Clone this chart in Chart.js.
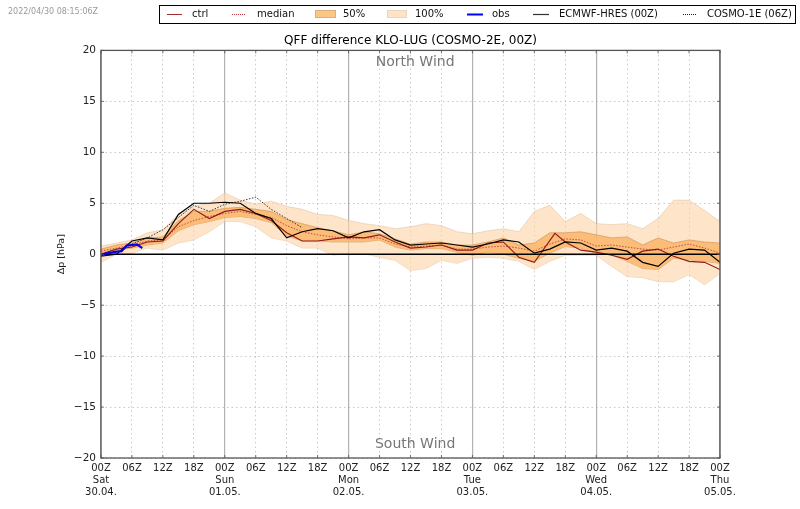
<!DOCTYPE html>
<html><head><meta charset="utf-8">
<style>html,body{margin:0;padding:0;background:#fff}canvas{display:block}</style>
<script src="https://cdn.jsdelivr.net/npm/chart.js@4"></script></head>
<body><canvas id="c" width="800" height="509"></canvas>
<script>
const hours=[0,3,6,9,12,15,18,21,24,27,30,33,36,39,42,45,48,51,54,57,60,63,66,69,72,75,78,81,84,87,90,93,96,99,102,105,108,111,114,117,120];
const upper100=[0.8,1.1,1.4,2.1,2.4,3.9,4.7,5.0,6.0,5.3,4.9,5.2,4.7,4.4,3.9,3.8,3.3,3.0,2.8,2.5,2.7,3.0,2.8,2.2,2.0,2.3,2.5,2.2,4.2,4.8,3.2,4.0,3.0,2.9,3.0,2.5,3.5,5.3,5.3,4.3,3.2];
const lower100=[-0.8,0,0.1,0.6,0.4,1.1,1.4,2.2,3.2,3.2,2.7,1.6,1.3,0.6,0.6,-0.1,0.1,0.05,-0.3,-0.6,-1.6,-1.4,-0.6,-0.9,-0.4,-0.3,-0.4,-0.7,-1.5,-0.7,-0.1,-0.1,-0.1,-1.2,-2.2,-2.3,-2.7,-2.7,-2.0,-3.0,-1.9];
const upper50=[0.5,0.9,1.1,1.6,1.7,3.3,4.2,4.2,4.5,4.6,4.4,4.2,3.4,3.0,2.6,2.3,1.9,2.2,2.0,1.5,1.0,1.2,1.2,0.9,0.9,1.2,1.6,0.9,1.1,2.1,2.1,2.2,1.9,1.6,1.7,0.9,1.6,1.1,1.4,1.2,1.1];
const lower50=[0.1,0.4,0.6,0.9,1.1,2.3,2.9,3.2,3.6,3.7,3.5,3.1,1.8,1.3,1.3,1.2,1.2,1.2,1.4,0.7,0.4,0.55,0.55,0.2,-0.1,0.2,0,-0.4,-0.7,0.1,0.75,0.6,0.1,-0.05,-0.7,-1.4,-1.5,-0.4,-0.55,-0.7,-0.9];
const median=[0.3,0.6,0.9,1.3,1.4,2.7,3.3,3.7,4.0,4.2,3.9,3.6,2.8,2.2,1.9,1.7,1.5,1.6,1.6,1.0,0.7,0.8,0.9,0.5,0.5,0.7,0.8,0.6,0.3,1.0,1.5,1.4,0.8,0.9,0.7,0.5,0.4,0.7,1.0,0.6,0.1];
const ctrlHours=[0,3,6,9,12,15,18,21,24,27,30,33,36,39,42,45,48,51,54,57,60,63,66,69,72,75,78,81,84,88,90,93,96,99,102,105,108,111,114,117,120];
const ctrl=[0,0.5,0.7,1.2,1.3,3.0,4.4,3.5,4.2,4.4,4.0,3.3,2.1,1.3,1.3,1.5,1.7,1.6,1.9,1.2,0.6,0.7,0.9,0.4,0.4,1.1,1.2,-0.3,-0.8,2.05,1.2,0.4,0.2,-0.1,-0.5,0.3,0.5,-0.2,-0.7,-0.8,-1.5];
const hres=[-0.2,0,1.3,1.6,1.4,3.9,5.0,5.0,5.1,5.0,4.0,3.5,1.6,2.2,2.5,2.3,1.6,2.2,2.4,1.4,0.9,1.0,1.1,0.9,0.7,1.0,1.4,1.2,0.1,0.5,1.2,1.1,0.4,0.6,0.3,-0.8,-1.2,0.1,0.5,0.4,-0.8];
const cosmoHours=[6,9,12,15,18,21,24,27,30,33,36,39];
const cosmo=[1.0,1.6,2.4,3.6,4.8,4.2,4.9,5.2,5.6,4.4,3.5,2.6];
const obsHours=[0,1,2,3,4,5,6,7,8];
const obs=[-0.1,0.05,0.15,0.25,0.3,0.85,0.9,0.95,0.6];
const xLabels={0:['00Z','Sat','30.04.'],24:['00Z','Sun','01.05.'],48:['00Z','Mon','02.05.'],72:['00Z','Tue','03.05.'],96:['00Z','Wed','04.05.'],120:['00Z','Thu','05.05.']};
const hourLabels=['00Z','06Z','12Z','18Z'];
const yTicks=[-20,20,5];
const chartTitle='QFF difference KLO-LUG (COSMO-2E, 00Z)';
const yName='Δp [hPa]';
const stamp='2022/04/30 08:15:06Z';
const legendNames=['ctrl','median','50%','100%','obs','ECMWF-HRES (00Z)','COSMO-1E (06Z)'];
const windNames=['North Wind','South Wind'];

const FONT='"DejaVu Sans"';
const pts=(xs,ys)=>xs.map((x,i)=>({x,y:ys[i]}));
const band=(label,ys,fill,bg,edge)=>({label,data:pts(hours,ys),fill,backgroundColor:bg,borderColor:edge,borderWidth:1,pointRadius:0,tension:0});
const line=(label,xs,ys,color,w,dash)=>({label,data:pts(xs,ys),fill:false,borderColor:color,borderWidth:w,borderDash:dash||[],pointRadius:0,tension:0});

const extras={id:'extras',
 afterDatasetsDraw(c){
  const {ctx,chartArea:a,scales:{x,y}}=c;
  ctx.save();
  ctx.strokeStyle='#555';ctx.lineWidth=1.3;
  ctx.strokeRect(a.left,a.top,a.right-a.left,a.bottom-a.top);
  ctx.lineWidth=0.8;ctx.beginPath();
  for(let h=0;h<=120;h+=6){const p=x.getPixelForValue(h);ctx.moveTo(p,a.top);ctx.lineTo(p,a.top+3);ctx.moveTo(p,a.bottom);ctx.lineTo(p,a.bottom-3);}
  for(let v=yTicks[0];v<=yTicks[1];v+=yTicks[2]){const p=y.getPixelForValue(v);ctx.moveTo(a.left,p);ctx.lineTo(a.left+3,p);ctx.moveTo(a.right,p);ctx.lineTo(a.right-3,p);}
  ctx.stroke();
  ctx.fillStyle='#777';ctx.font='14px '+FONT;ctx.textAlign='center';ctx.textBaseline='middle';
  ctx.fillText(windNames[0],x.getPixelForValue(60.9),y.getPixelForValue(18.8));
  ctx.fillText(windNames[1],x.getPixelForValue(60.9),y.getPixelForValue(-18.7));
  ctx.save();ctx.translate(62,y.getPixelForValue(0));ctx.rotate(-Math.PI/2);
  ctx.fillStyle='#222';ctx.font='9.5px '+FONT;ctx.fillText(yName,0,0);ctx.restore();
  ctx.fillStyle='#999';ctx.font='8px '+FONT;ctx.textAlign='left';
  ctx.fillText(stamp,8,12);
  ctx.fillStyle='#fff';ctx.fillRect(159.5,5.5,636,18);
  ctx.strokeStyle='#000';ctx.lineWidth=1;ctx.strokeRect(159.5,5.5,636,18);
  const items=[
   {k:'l',x0:167,x1:182,t:192,c:'#a03030',w:1,d:[]},
   {k:'l',x0:232,x1:246,t:257,c:'#c04040',w:1,d:[1,1]},
   {k:'p',x0:315,x1:336,t:343,c:'#fdc583',e:'#d8b080'},
   {k:'p',x0:387,x1:407,t:415,c:'#fee3c8',e:'#ead5bd'},
   {k:'l',x0:467,x1:483,t:492,c:'#0000ff',w:2,d:[]},
   {k:'l',x0:533,x1:549,t:559,c:'#333',w:1.2,d:[]},
   {k:'l',x0:683,x1:696,t:707,c:'#222',w:1,d:[1,1]}];
  ctx.font='10px '+FONT;
  items.forEach((it,i)=>{
   if(it.k==='l'){ctx.strokeStyle=it.c;ctx.lineWidth=it.w;ctx.setLineDash(it.d);ctx.beginPath();ctx.moveTo(it.x0,14.5);ctx.lineTo(it.x1,14.5);ctx.stroke();ctx.setLineDash([]);}
   else{ctx.fillStyle=it.c;ctx.fillRect(it.x0,10,it.x1-it.x0,8);ctx.strokeStyle=it.e;ctx.lineWidth=1;ctx.strokeRect(it.x0+.5,10.5,it.x1-it.x0-1,7);}
   ctx.fillStyle='#111';ctx.fillText(legendNames[i],it.t,14.5);
  });
  ctx.restore();
 }};

const zero=hours.map(()=>0);
new Chart(document.getElementById('c'),{type:'line',
 data:{datasets:[
  line(legendNames[4],obsHours,obs,'#0000ee',2.2),
  line('zero',hours,zero,'#000',1.4),
  line(legendNames[5],hours,hres,'#000',1.2),
  line(legendNames[6],cosmoHours,cosmo,'#222',0.9,[1.5,1.5]),
  line(legendNames[0],ctrlHours,ctrl,'#8f1a1a',1.1),
  line(legendNames[1],hours,median,'#b84040',0.9,[1.5,1.5]),
  band(legendNames[2],upper50,'+1','rgba(252,180,100,0.8)','rgba(190,130,70,0.5)'),
  band('50% low',lower50,false,'transparent','rgba(190,130,70,0.5)'),
  band(legendNames[3],upper100,'+1','rgba(253,213,170,0.62)','rgba(225,190,150,0.5)'),
  band('100% low',lower100,false,'transparent','rgba(225,190,150,0.5)')
 ]},
 options:{responsive:false,animation:false,devicePixelRatio:1,
  layout:{padding:{left:0,right:80,top:0,bottom:0}},
  plugins:{legend:{display:false},tooltip:{enabled:false},
   title:{display:true,text:chartTitle,color:'#000',font:{family:FONT,size:12,weight:'normal',lineHeight:1.2},padding:{top:34,bottom:2},fullSize:false}},
  scales:{
   x:{type:'linear',min:0,max:120,position:'bottom',
    afterFit(s){s.height=51;},
    afterBuildTicks(s){s.ticks=[];for(let h=0;h<=120;h+=6)s.ticks.push({value:h});},
    ticks:{autoSkip:false,maxRotation:0,padding:4,color:'#222',font:{family:FONT,size:10,lineHeight:1.2},
     callback:v=>xLabels[v]||hourLabels[(v%24)/6]},
    grid:{color:'rgba(130,130,130,0.62)',lineWidth:c=>c.tick&&c.tick.value%24===0?1.2:0,drawTicks:false},
    border:{display:false}},
   x2:{type:'linear',min:0,max:120,position:'bottom',display:true,
    afterFit(s){s.height=0;},
    afterBuildTicks(s){s.ticks=[];for(let h=0;h<=120;h+=6)if(h%24)s.ticks.push({value:h});},
    ticks:{display:false},
    grid:{color:'rgba(150,150,150,0.5)',lineWidth:1,drawTicks:false},
    border:{display:false,dash:[1.5,3]}},
   y:{min:yTicks[0],max:yTicks[1],
    afterFit(s){s.width=101;},
    ticks:{stepSize:yTicks[2],padding:5,color:'#222',font:{family:FONT,size:10.5},callback:v=>v<0?'\u2212'+(-v):''+v},
    grid:{color:'rgba(150,150,150,0.5)',lineWidth:1,drawTicks:false},
    border:{display:false,dash:[1.5,3]}}
  }},
 plugins:[extras]});
</script></body></html>
